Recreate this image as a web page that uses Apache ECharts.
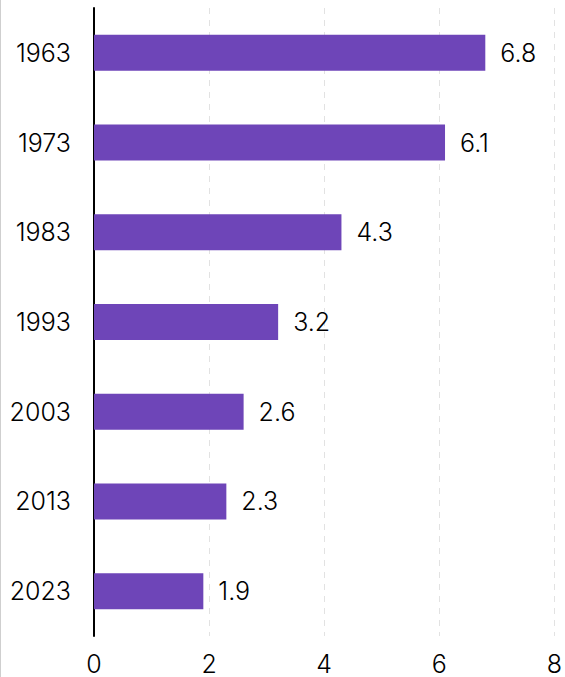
<!DOCTYPE html>
<html>
<head>
<meta charset="utf-8">
<script src="https://cdn.jsdelivr.net/npm/echarts@6/dist/echarts.min.js"></script>
<style>
  html, body { margin: 0; padding: 0; background: #fff; }
  #wrap { width: 565px; height: 677px; box-sizing: border-box; border-left: 1px solid #cfcfcf; }
  #chart { width: 564px; height: 677px; }
</style>
</head>
<body>
<div id="wrap"><div id="chart"></div></div>
<script>
// 年份与数值
const years = ['1963', '1973', '1983', '1993', '2003', '2013', '2023'];
const values = [6.8, 6.1, 4.3, 3.2, 2.6, 2.3, 1.9];
const xTicks = [0, 2, 4, 6, 8];

const FONT = 'Inter, "Noto Sans", sans-serif';
const textStyle = { color: '#000', fontSize: 25, fontWeight: 300, fontFamily: FONT };

const chart = echarts.init(document.getElementById('chart'), null, { renderer: 'svg' });
chart.setOption({
  animation: false,
  grid: { left: 93, right: 7, top: 8, bottom: 41 },
  xAxis: {
    type: 'value',
    min: xTicks[0],
    max: xTicks[xTicks.length - 1],
    interval: 2,
    axisLine: { show: false },
    axisTick: { show: false },
    axisLabel: { ...textStyle, margin: 15 },
    splitLine: { lineStyle: { color: '#e2e2e2', type: [6, 6], width: 1 } }
  },
  yAxis: {
    type: 'category',
    inverse: true,
    data: years,
    axisLine: { lineStyle: { color: '#000', width: 2 } },
    axisTick: { show: false },
    axisLabel: { ...textStyle, margin: 23 }
  },
  series: [{
    type: 'bar',
    data: values,
    barWidth: 36,
    itemStyle: { color: '#6e45b8' },
    label: {
      show: true,
      position: 'right',
      distance: 15,
      ...textStyle,
      formatter: p => p.value.toFixed(1)
    }
  }]
});
</script>
</body>
</html>
